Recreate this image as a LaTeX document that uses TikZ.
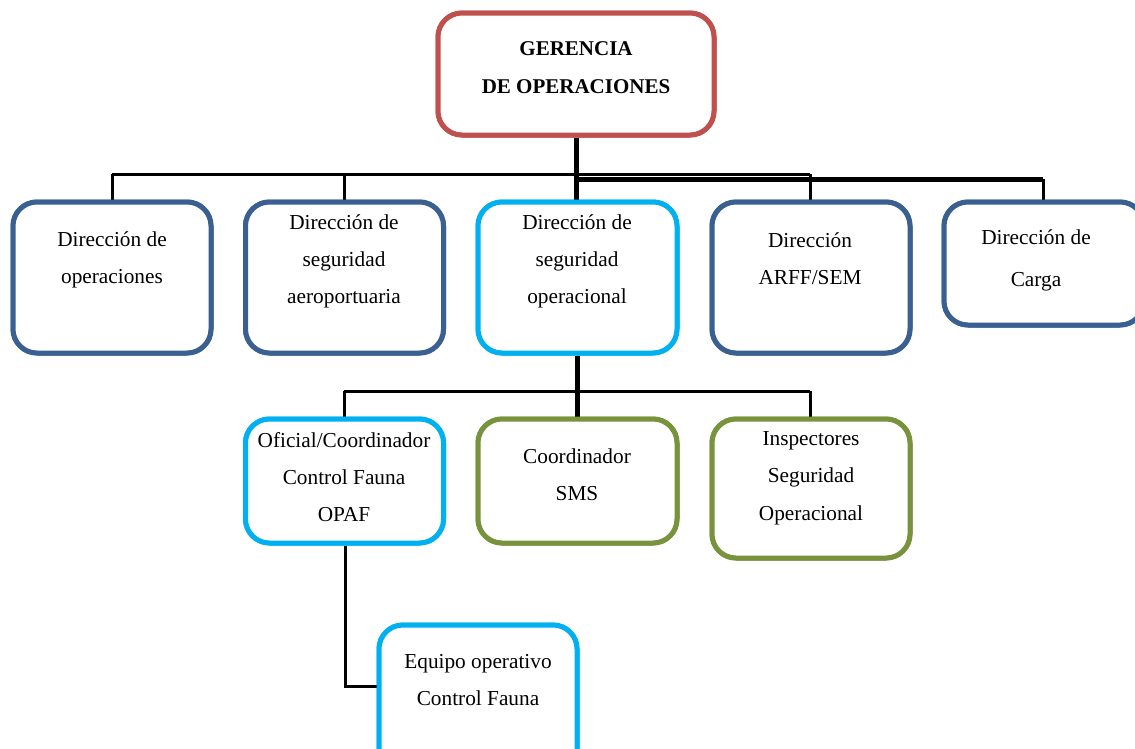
\documentclass[tikz,border=0pt]{standalone}
\usepackage{fontspec}
\setmainfont{Liberation Serif}
\definecolor{cred}{HTML}{C0504D}
\definecolor{cblue}{HTML}{3A6092}
\definecolor{ccyan}{HTML}{00B0F0}
\definecolor{cgreen}{HTML}{77933C}
\begin{document}
\begin{tikzpicture}[x=1pt,y=-1pt,
  box/.style={draw, line width=5pt, rounded corners=24pt, fill=white, inner sep=0pt},
  txt/.style={align=center, font=\fontsize{21.3}{37}\selectfont, inner sep=0pt},
  conn/.style={draw=black, line width=3pt},
  thick conn/.style={draw=black, line width=5pt}]
\useasboundingbox (0,0) rectangle (1135,748);
\coordinate (h1l) at (112,174);
\coordinate (h1r) at (810,174);
\coordinate (h2l) at (576,179);
\coordinate (h2r) at (1043,179);
% boxes (positions)
\node[box, draw=cred, minimum width=276pt, minimum height=122pt] (top) at (576,74) {};
\node[box, draw=cblue, minimum width=198pt, minimum height=151pt] (b1) at (112,277.5) {};
\node[box, draw=cblue, minimum width=198pt, minimum height=151pt] (b2) at (344.5,277.5) {};
\node[box, draw=ccyan, minimum width=199pt, minimum height=151pt] (b3) at (577.5,277.5) {};
\node[box, draw=cblue, minimum width=198pt, minimum height=151pt] (b4) at (811,277.5) {};
\node[box, draw=cblue, minimum width=200pt, minimum height=123pt] (b5) at (1044,263.5) {};
\node[box, draw=ccyan, minimum width=198pt, minimum height=124pt] (b6) at (344.5,481) {};
\node[box, draw=cgreen, minimum width=199pt, minimum height=124pt] (b7) at (577.5,481) {};
\node[box, draw=cgreen, minimum width=198pt, minimum height=139pt] (b8) at (811,488.5) {};
\node[box, draw=ccyan, minimum width=198pt, minimum height=150pt] (b9) at (478,700) {};
% connectors
\draw[conn] (h1l) -- (h1r);
\draw[thick conn] (h2l) -- (h2r);
\draw[thick conn] (top.south) -- (top.south |- b3.north);
\draw[conn] (h1l) -- (b1.north -| h1l);
\draw[conn] (344,174) -- (b2.north -| 344,0);
\draw[conn] (h1r) -- (b4.north -| h1r);
\draw[conn] (h2r) -- (b5.north -| h2r);
\coordinate (m1l) at (344,391);
\coordinate (m1r) at (810,391);
\draw[conn] (m1l) -- (m1r);
\draw[thick conn] (b3.south -| 577,0) -- (b7.north -| 577,0);
\draw[conn] (m1l) -- (b6.north -| m1l);
\draw[conn] (m1r) -- (b8.north -| m1r);
\coordinate (bend) at (345,686);
\draw[conn] (b6.south -| bend) -- (bend) -- (b9.west |- bend);
% boxes drawn over connector ends
\node[box, draw=cred, minimum width=276pt, minimum height=122pt] at (top) {};
\node[box, draw=cblue, minimum width=198pt, minimum height=151pt] at (b1) {};
\node[box, draw=cblue, minimum width=198pt, minimum height=151pt] at (b2) {};
\node[box, draw=ccyan, minimum width=199pt, minimum height=151pt] at (b3) {};
\node[box, draw=cblue, minimum width=198pt, minimum height=151pt] at (b4) {};
\node[box, draw=cblue, minimum width=200pt, minimum height=123pt] at (b5) {};
\node[box, draw=ccyan, minimum width=198pt, minimum height=124pt] at (b6) {};
\node[box, draw=cgreen, minimum width=199pt, minimum height=124pt] at (b7) {};
\node[box, draw=cgreen, minimum width=198pt, minimum height=139pt] at (b8) {};
\node[box, draw=ccyan, minimum width=198pt, minimum height=150pt] at (b9) {};
% texts
\node[txt, font=\fontsize{21}{38}\selectfont\bfseries] (t0) at (576,68) {GERENCIA\\DE OPERACIONES};
\node[txt] (t1) at (112,259.5) {Dirección de\\operaciones};
\node[txt] (t2) at (344,261) {Dirección de\\seguridad\\aeroportuaria};
\node[txt] (t3) at (577,261) {Dirección de\\seguridad\\operacional};
\node[txt] (t4) at (810,259) {Dirección\\ARFF/SEM};
\node[txt, font=\fontsize{21.3}{42}\selectfont] (t5) at (1036,260) {Dirección de\\Carga};
\node[txt] (t6) at (344,477) {Oficial/Coordinador\\Control Fauna\\OPAF};
\node[txt] (t7) at (577,475) {Coordinador\\SMS};
\node[txt, font=\fontsize{21.3}{37.5}\selectfont] (t8) at (811,478) {Inspectores\\Seguridad\\Operacional};
\node[txt] (t9) at (478,680) {Equipo operativo\\Control Fauna};
\end{tikzpicture}
\end{document}
